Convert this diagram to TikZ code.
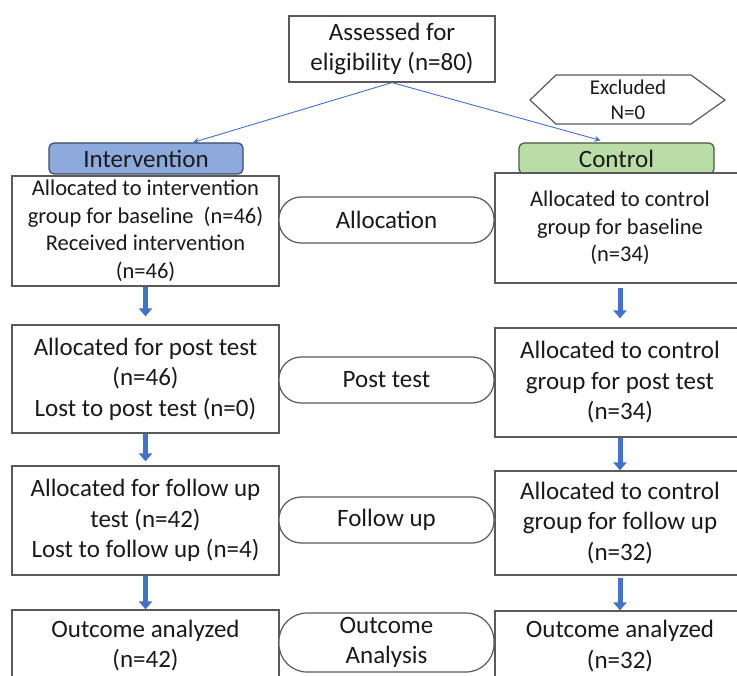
\documentclass[tikz,border=0pt]{standalone}
\usepackage{fontspec}
\setmainfont{Carlito}
\usetikzlibrary{arrows.meta,positioning}
\definecolor{boxline}{HTML}{5A5A5A}
\definecolor{arrblue}{HTML}{4472C4}
\definecolor{intfill}{HTML}{8EA9DB}
\definecolor{intline}{HTML}{3A4A6A}
\definecolor{ctlfill}{HTML}{BADCA6}
\definecolor{ctlline}{HTML}{4A5A40}
\definecolor{txt}{HTML}{1A1A1A}
\tikzset{
  rbox/.style={draw=boxline, line width=1.2pt, fill=white, align=center, text=txt, inner sep=0pt},
  big/.style={font=\fontsize{25}{30.5}\selectfont},
  mid/.style={font=\fontsize{22.5}{27.5}\selectfont},
  oval/.style={draw=boxline, line width=1.2pt, fill=white, rounded corners=22pt, align=center, text=txt, inner sep=0pt, minimum width=215pt},
  hdr/.style={line width=1.2pt, rounded corners=5pt, inner sep=0pt, minimum height=31pt, text=txt, font=\fontsize{25}{30}\selectfont},
  downarrow/.style={draw=arrblue, line width=5pt, -{Triangle[width=13pt,length=8pt]}},
  diagarrow/.style={draw=arrblue, line width=0.9pt, -{Stealth[width=6pt,length=6pt]}}
}
\begin{document}
\begin{tikzpicture}[x=1pt,y=-1pt]
\useasboundingbox[fill=white] (0,0) rectangle (737,676);

% top
\node[rbox,big,minimum width=206pt,minimum height=66pt] (top) at (392,49) {Assessed for\\eligibility (n=80)};

% excluded hexagon
\draw[boxline, line width=1.2pt, fill=white] (530,100) -- (556,75) -- (691,75) -- (725,100) -- (691,124) -- (556,124) -- cycle;
\node[align=center,text=txt,font=\fontsize{21}{25}\selectfont,inner sep=0pt] (excl) at (628,100) {Excluded\\N=0};

% right column boxes (drawn before header so header sits above? header behind)
\node[hdr, draw=ctlline, fill=ctlfill, minimum width=195pt] (ctl) at (616.5,158.5) {Control};
\node[rbox,mid,minimum width=250pt,minimum height=110pt] (R1) at (620,228) {Allocated to control\\group for baseline\\(n=34)};
\node[rbox,big,minimum width=250pt,minimum height=109pt] (R2) at (620,382.5) {Allocated to control\\group for post test\\(n=34)};
\node[rbox,big,minimum width=250pt,minimum height=104pt] (R3) at (620,523) {Allocated to control\\group for follow up\\(n=32)};
\node[rbox,big,minimum width=250pt,minimum height=70pt] (R4) at (620,646) {Outcome analyzed\\(n=32)};

% left column
\node[hdr, draw=intline, fill=intfill, minimum width=194pt] (int) at (146,158.5) {Intervention};
\node[rbox,mid,minimum width=267pt,minimum height=110pt] (L1) at (145.5,231) {Allocated to intervention\\group for baseline\ \ (n=46)\\Received intervention\\(n=46)};
\node[rbox,big,minimum width=267pt,minimum height=108pt] (L2) at (145.5,379) {Allocated for post test\\(n=46)\\Lost to post test (n=0)};
\node[rbox,big,minimum width=267pt,minimum height=109pt] (L3) at (145.5,520.5) {Allocated for follow up\\test (n=42)\\Lost to follow up (n=4)};
\node[rbox,big,minimum width=267pt,minimum height=71pt] (L4) at (145.5,645.5) {Outcome analyzed\\(n=42)};

% middle ovals
\node[oval,big,minimum height=46pt] (alloc) at (386.5,220) {Allocation};
\node[oval,big,minimum height=46pt] (post) at (386.5,380) {Post test};
\node[oval,big,minimum height=46pt] (fol) at (386.5,520) {Follow up};
\node[oval,big,minimum height=59pt,rounded corners=28pt] (outc) at (386.5,642.5) {Outcome\\Analysis};

% diagonal arrows
\coordinate (intin) at ([xshift=47pt]int.north);
\coordinate (ctlin) at ([xshift=-16pt,yshift=2pt]ctl.north);
\draw[diagarrow] (top.south) -- (intin);
\draw[diagarrow] (top.south) -- (ctlin);

% vertical arrows
\draw[downarrow, shorten >=8pt] (L1.south) -- (L2.north);
\draw[downarrow, shorten >=4pt] (L2.south) -- (L3.north);
\draw[downarrow] (L3.south) -- (L4.north);
\draw[downarrow, shorten <=4pt, shorten >=9pt] (R1.south) -- (R2.north);
\draw[downarrow] (R2.south) -- (R3.north);
\draw[downarrow, shorten <=2pt] (R3.south) -- (R4.north);
\end{tikzpicture}
\end{document}
